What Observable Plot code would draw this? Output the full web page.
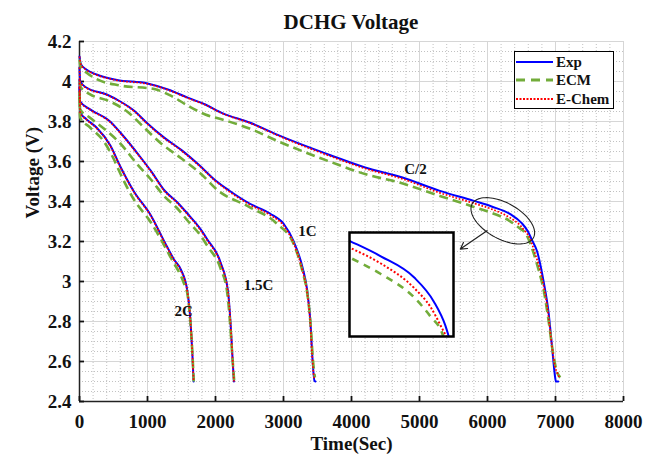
<!DOCTYPE html>
<html><head><meta charset="utf-8">
<script src="https://cdn.jsdelivr.net/npm/d3@7"></script>
<script src="https://cdn.jsdelivr.net/npm/@observablehq/plot@0.6"></script>
<style>
body{margin:0;background:#fff;}
#wrap{position:relative;width:653px;height:467px;font-family:'Liberation Serif','Times New Roman',serif;color:#111;overflow:hidden;}
#title{height:32px;box-sizing:border-box;padding-top:12px;padding-left:79px;width:623px;text-align:center;font-weight:bold;font-size:21px;line-height:21px;}
#legend{position:absolute;left:514px;top:51px;width:100px;height:58px;border:1.5px solid #000;box-sizing:border-box;background:#fff;}
.lrow{position:absolute;left:0;height:18px;width:98px;}
.lrow svg{position:absolute;left:1px;top:0;}
.lrow span{position:absolute;left:41px;top:0;font-weight:bold;font-size:15px;line-height:18px;}
#inset{position:absolute;left:349px;top:232px;}
</style></head>
<body>
<div id="wrap">
  <div id="title">DCHG Voltage</div>
</div>
<script>
// ---- axis ticks ----
const xTicks = [0, 1000, 2000, 3000, 4000, 5000, 6000, 7000, 8000];
const yTicks = [2.4, 2.6, 2.8, 3.0, 3.2, 3.4, 3.6, 3.8, 4.0, 4.2];
const xMinor = d3.range(0, 8001, 200).filter(d => d % 1000 !== 0);
const yMinor = d3.range(0, 37).map(i => 2.4 + i * 0.05).filter((d, i) => i % 4 !== 0);

// ---- C/2 ----
const c2T_exp  = [0, 20, 100, 250, 550, 1000, 1300, 1600, 1850, 2100, 2500, 2950, 3700, 4200, 4750, 5300, 5800, 6060, 6335, 6500, 6595, 6650, 6730, 6825, 6900, 6950, 6995, 7005, 7040];
const c2V_exp  = [4.125, 4.087, 4.06, 4.035, 4.008, 3.99, 3.96, 3.918, 3.885, 3.842, 3.795, 3.728, 3.63, 3.57, 3.52, 3.453, 3.403, 3.375, 3.337, 3.293, 3.25, 3.21, 3.15, 3.0, 2.84, 2.67, 2.52, 2.50, 2.50];
const c2T_ecm  = [0, 20, 100, 250, 600, 1100, 1350, 1600, 1850, 2100, 2500, 2950, 3700, 4200, 4700, 5300, 5800, 6060, 6335, 6473, 6569, 6650, 6750, 6830, 6900, 6960, 7020, 7070];
const c2V_ecm  = [4.11, 4.07, 4.045, 4.012, 3.98, 3.962, 3.928, 3.878, 3.835, 3.81, 3.765, 3.697, 3.597, 3.537, 3.495, 3.428, 3.373, 3.343, 3.301, 3.266, 3.236, 3.17, 3.06, 2.95, 2.80, 2.65, 2.55, 2.52];
const c2T_ech  = [0, 20, 100, 250, 550, 1000, 1300, 1600, 1850, 2100, 2500, 2950, 3700, 4200, 4750, 5300, 5800, 6060, 6335, 6473, 6577, 6603, 6700, 6800, 6880, 6940, 6990, 7030, 7055];
const c2V_ech  = [4.125, 4.085, 4.058, 4.033, 4.006, 3.988, 3.958, 3.916, 3.883, 3.84, 3.793, 3.725, 3.625, 3.565, 3.513, 3.443, 3.391, 3.362, 3.318, 3.283, 3.241, 3.23, 3.14, 3.02, 2.87, 2.70, 2.58, 2.54, 2.52];

// ---- 1C ----
const c1T_exp  = [0, 10, 100, 400, 600, 800, 1000, 1250, 1500, 1750, 2000, 2200, 2500, 2800, 3000, 3150, 3280, 3350, 3398, 3422, 3456, 3470];
const c1V_exp  = [4.07, 4.0, 3.97, 3.935, 3.9, 3.855, 3.79, 3.718, 3.657, 3.585, 3.505, 3.455, 3.39, 3.34, 3.29, 3.20, 3.07, 2.953, 2.787, 2.637, 2.503, 2.50];
const c1T_ecm  = [0, 20, 150, 450, 700, 950, 1200, 1500, 1780, 2030, 2500, 2900, 3150, 3280, 3350, 3400, 3430, 3462];
const c1V_ecm  = [4.0, 3.97, 3.937, 3.90, 3.85, 3.77, 3.69, 3.615, 3.54, 3.457, 3.372, 3.29, 3.187, 3.05, 2.94, 2.78, 2.62, 2.52];
const c1T_ech  = [0, 10, 100, 400, 600, 800, 1000, 1250, 1500, 1750, 2000, 2200, 2500, 2800, 3000, 3150, 3275, 3345, 3395, 3420, 3450, 3465];
const c1V_ech  = [4.07, 3.998, 3.968, 3.933, 3.898, 3.852, 3.787, 3.715, 3.654, 3.582, 3.502, 3.45, 3.385, 3.333, 3.28, 3.19, 3.06, 2.95, 2.787, 2.637, 2.52, 2.51];

// ---- 1.5C ----
const c15T_exp = [0, 10, 150, 450, 600, 900, 1050, 1250, 1440, 1600, 1780, 1880, 2075, 2183, 2222, 2247, 2271];
const c15V_exp = [4.01, 3.90, 3.862, 3.80, 3.745, 3.62, 3.553, 3.455, 3.395, 3.335, 3.262, 3.21, 3.095, 2.953, 2.787, 2.637, 2.50];
const c15T_ecm = [0, 10, 150, 400, 600, 840, 1050, 1250, 1440, 1600, 1780, 1880, 2075, 2170, 2215, 2245, 2275];
const c15V_ecm = [3.95, 3.86, 3.82, 3.753, 3.69, 3.59, 3.51, 3.425, 3.365, 3.30, 3.23, 3.178, 3.065, 2.95, 2.79, 2.64, 2.50];
const c15T_ech = [0, 10, 150, 450, 600, 900, 1050, 1250, 1440, 1600, 1780, 1880, 2075, 2183, 2222, 2247, 2271];
const c15V_ech = [4.01, 3.898, 3.86, 3.797, 3.742, 3.617, 3.55, 3.452, 3.392, 3.331, 3.257, 3.205, 3.09, 2.95, 2.787, 2.637, 2.50];

// ---- 2C ----
const c20T_exp = [0, 10, 100, 250, 450, 600, 800, 1050, 1243, 1390, 1490, 1586, 1635, 1660, 1678];
const c20V_exp = [3.97, 3.845, 3.812, 3.77, 3.682, 3.575, 3.45, 3.33, 3.203, 3.11, 3.06, 2.953, 2.787, 2.637, 2.50];
const c20T_ecm = [0, 10, 156, 352, 500, 600, 800, 1050, 1341, 1537, 1586, 1635, 1662, 1680];
const c20V_ecm = [3.92, 3.82, 3.77, 3.703, 3.615, 3.54, 3.41, 3.295, 3.12, 2.99, 2.94, 2.78, 2.63, 2.50];
const c20T_ech = [0, 10, 100, 250, 450, 600, 800, 1050, 1243, 1390, 1490, 1586, 1635, 1660, 1678];
const c20V_ech = [3.97, 3.843, 3.81, 3.767, 3.679, 3.572, 3.447, 3.327, 3.2, 3.107, 3.055, 2.95, 2.787, 2.637, 2.50];

// ---- annotations ----
const annoLabels = ["C/2", "1C", "1.5C", "2C"];
const annoT = [4940, 3353, 2634, 1532];
const annoV = [3.563, 3.253, 2.983, 2.854];
const ellipseCenter = [6225, 3.3035];   // data units
const ellipseRadii = [35, 18];          // px
const ellipseAngle = 29;                // degrees
const arrowFrom = [5993, 3.254];
const arrowTo = [5601, 3.162];
const insetX = [5800, 6663];
const insetY = [3.23, 3.418];

const legendItems = ["Exp", "ECM", "E-Chem"];
const colors = {"Exp": "#0000ff", "ECM": "#72ac3a", "E-Chem": "#ff0000"};
const widths = {"Exp": 2, "ECM": 2.6, "E-Chem": 1.7};
const dashes = {"Exp": null, "ECM": "9,5", "E-Chem": "1.7,1.7"};
const caps = {"Exp": "round", "ECM": "butt", "E-Chem": "butt"};

function rows(model, rate, T, V) { return T.map((t, i) => ({model, rate, t, v: V[i]})); }
const data = [
  ...rows("Exp", "C/2", c2T_exp, c2V_exp), ...rows("ECM", "C/2", c2T_ecm, c2V_ecm), ...rows("E-Chem", "C/2", c2T_ech, c2V_ech),
  ...rows("Exp", "1C", c1T_exp, c1V_exp), ...rows("ECM", "1C", c1T_ecm, c1V_ecm), ...rows("E-Chem", "1C", c1T_ech, c1V_ech),
  ...rows("Exp", "1.5C", c15T_exp, c15V_exp), ...rows("ECM", "1.5C", c15T_ecm, c15V_ecm), ...rows("E-Chem", "1.5C", c15T_ech, c15V_ech),
  ...rows("Exp", "2C", c20T_exp, c20V_exp), ...rows("ECM", "2C", c20T_ecm, c20V_ecm), ...rows("E-Chem", "2C", c20T_ech, c20V_ech)
];

const W = 653, H = 435, ML = 79, MR = 30, MT = 9, MB = 66;
const kx = (W - ML - MR) / (xTicks[xTicks.length - 1] - xTicks[0]);
const ky = (H - MT - MB) / (yTicks[yTicks.length - 1] - yTicks[0]);
const th = ellipseAngle * Math.PI / 180;
const ellipsePts = d3.range(0, 361, 4).map(a => {
  const r = a * Math.PI / 180;
  const dx = ellipseRadii[0] * Math.cos(r) * Math.cos(th) - ellipseRadii[1] * Math.sin(r) * Math.sin(th);
  const dy = ellipseRadii[0] * Math.cos(r) * Math.sin(th) + ellipseRadii[1] * Math.sin(r) * Math.cos(th);
  return {t: ellipseCenter[0] + dx / kx, v: ellipseCenter[1] - dy / ky};
});

function modelLines(d, extra = {}) {
  return legendItems.map(m => Plot.line(d.filter(r => r.model === m), {
    x: "t", y: "v", z: "rate", stroke: colors[m], strokeWidth: widths[m],
    strokeDasharray: dashes[m], strokeLinecap: caps[m], curve: "monotone-x", ...extra
  }));
}

const font = "'Liberation Serif','Times New Roman',serif";
const main = Plot.plot({
  width: W, height: H, marginLeft: ML, marginRight: MR, marginTop: MT, marginBottom: MB,
  x: {domain: [0, 8000]},
  y: {domain: [2.4, 4.2]},
  style: {fontFamily: font, fontWeight: "bold", fontSize: "19px", color: "#111", background: "transparent", overflow: "visible"},
  marks: [
    Plot.gridX(xMinor, {stroke: "#9a9a9a", strokeOpacity: 0.6, strokeDasharray: "1,2"}),
    Plot.gridY(yMinor, {stroke: "#9a9a9a", strokeOpacity: 0.6, strokeDasharray: "1,2"}),
    Plot.gridX(xTicks, {stroke: "#d6d6d6", strokeOpacity: 1}),
    Plot.gridY(yTicks, {stroke: "#d6d6d6", strokeOpacity: 1}),
    Plot.ruleX([0], {stroke: "#222", strokeWidth: 1.5}),
    Plot.ruleY([2.4], {stroke: "#222", strokeWidth: 1.5}),
    Plot.axisX({ticks: xTicks, tickSize: -5, tickPadding: 18, tickFormat: d3.format("d"), strokeWidth: 1.8, label: null, fontSize: 19, fontWeight: "bold"}),
    Plot.axisY({ticks: yTicks, tickSize: -5, tickPadding: 13, tickFormat: d3.format("~g"), strokeWidth: 1.8, label: null, fontSize: 19, fontWeight: "bold"}),
    ...modelLines(data),
    Plot.line(ellipsePts, {x: "t", y: "v", stroke: "#222", strokeWidth: 1.1, curve: "linear-closed"}),
    Plot.arrow([0], {x1: arrowFrom[0], y1: arrowFrom[1], x2: arrowTo[0], y2: arrowTo[1], stroke: "#222", strokeWidth: 1.2, headLength: 9}),
    Plot.text(annoLabels, {x: annoT, y: annoV, text: d => d, fontSize: 15, fontWeight: "bold"}),
    Plot.text(["Time(Sec)"], {frameAnchor: "bottom", dy: 48, fontSize: 19, fontWeight: "bold"}),
    Plot.text(["Voltage (V)"], {frameAnchor: "left", rotate: -90, dx: -47, dy: -3, fontSize: 19, fontWeight: "bold"})
  ]
});
document.getElementById("wrap").appendChild(main);

// inset zoom
const inset = Plot.plot({
  width: 104, height: 104, margin: 0,
  x: {domain: insetX, axis: null},
  y: {domain: insetY, axis: null},
  style: {background: "#fff", overflow: "visible"},
  marks: [
    ...legendItems.map(m => Plot.line(data.filter(r => r.model === m && r.rate === "C/2"), {
      x: "t", y: "v", stroke: colors[m], strokeWidth: m === "ECM" ? 2.6 : 2,
      strokeDasharray: m === "ECM" ? "7,6" : (m === "E-Chem" ? "2,2" : null),
      strokeLinecap: caps[m], curve: "monotone-x", clip: true
    })),
    Plot.frame({stroke: "#000", strokeWidth: 2.5})
  ]
});
inset.id = "inset";
document.getElementById("wrap").appendChild(inset);

// legend
const leg = document.createElement("div");
leg.id = "legend";
legendItems.forEach((m, i) => {
  const row = document.createElement("div");
  row.className = "lrow";
  row.style.top = (1 + i * 18.3) + "px";
  row.innerHTML = `<svg width="37" height="18"><line x1="0" x2="37" y1="9" y2="9" stroke="${colors[m]}" stroke-width="${m === "ECM" ? 2.8 : 2.2}" stroke-linecap="butt" ${dashes[m] ? `stroke-dasharray="${m === "ECM" ? "9,6" : "2,1.5"}"` : ""}/></svg><span>${m}</span>`;
  leg.appendChild(row);
});
document.getElementById("wrap").appendChild(leg);
</script>
</body></html>
